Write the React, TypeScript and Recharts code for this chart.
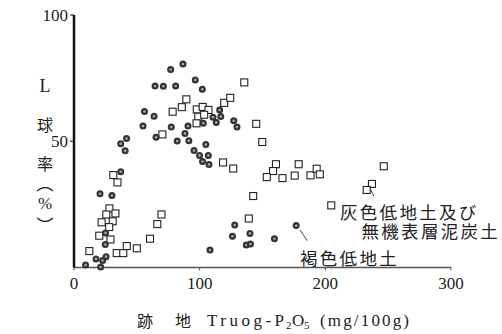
import React from "react";
import { ScatterChart, Scatter, XAxis, YAxis, ReferenceLine } from "recharts";

// 褐色低地土 (filled circles)
const brownX = [76.9, 86.7, 64.5, 71.1, 80.9, 96.5, 102.1, 56.1, 63.7, 54.9, 77.4, 90.7, 88.3, 65.3, 82.1, 91.4, 41.8, 37.2, 40.7, 104.9, 95.5, 99.9, 106.9, 102.3, 107.4, 102.9, 110.6, 116.8, 113.2, 115.9, 127.1, 129.7, 37.2, 20.7, 30.2, 25.1, 24.9, 17.5, 22.8, 25.5, 9.2, 21.2, 108.2, 127.9, 126.1, 140.0, 137.1, 140.4, 159.5, 176.8];
const brownY = [78.4, 80.6, 71.9, 71.8, 71.9, 74.3, 70.6, 61.8, 59.9, 56.0, 55.6, 56.0, 53.1, 51.6, 50.1, 50.2, 51.1, 49.0, 46.2, 48.7, 46.3, 44.4, 44.4, 42.0, 40.8, 57.1, 59.5, 59.8, 57.4, 62.4, 58.1, 55.6, 37.9, 29.2, 28.5, 13.7, 9.1, 3.4, 2.8, 4.3, 1.0, 0.2, 6.9, 16.8, 12.4, 13.5, 8.9, 9.3, 11.4, 16.6];

// 灰色低地土及び無機表層泥炭土 (open squares)
const grayX = [135.5, 89.4, 85.8, 78.5, 70.3, 97.7, 102.4, 107.0, 98.9, 103.6, 97.5, 119.5, 124.3, 118.6, 126.7, 145.0, 149.8, 160.7, 158.4, 153.4, 165.9, 178.8, 175.6, 188.2, 193.1, 195.6, 246.5, 237.1, 232.9, 204.7, 142.6, 139.1, 31.3, 34.6, 28.2, 25.7, 33.0, 22.0, 30.8, 28.0, 20.1, 29.0, 12.2, 34.0, 39.2, 42.0, 50.0, 69.6, 66.3, 60.5];
const grayY = [73.3, 66.6, 63.5, 61.7, 52.7, 62.6, 63.6, 62.4, 59.7, 60.5, 57.1, 65.2, 67.2, 41.6, 39.2, 56.9, 49.7, 40.9, 38.2, 35.8, 35.4, 40.9, 36.4, 36.5, 39.1, 36.9, 40.1, 33.1, 30.7, 24.6, 28.3, 19.4, 36.6, 33.7, 23.4, 21.0, 21.4, 17.9, 18.3, 16.0, 12.6, 11.1, 6.5, 5.7, 5.7, 8.5, 7.6, 21.0, 17.2, 11.4];

const xTicks = [0, 100, 200, 300];
const yTicks = [50, 100];

const brownData = brownX.map((x, i) => ({ x, y: brownY[i] }));
const grayData = grayX.map((x, i) => ({ x, y: grayY[i] }));

const CircleShape = (p: any) => (
  <g>
    <circle cx={p.cx} cy={p.cy} r={3.5} fill="#333" />
    <circle cx={p.cx} cy={p.cy} r={1.3} fill="#a8a8a8" />
  </g>
);

const SquareShape = (p: any) => (
  <rect x={p.cx - 3.5} y={p.cy - 3.5} width={7} height={7} fill="#fff" stroke="#222" strokeWidth={1.1} />
);

const serif = "Liberation Serif";
const cjk = "Noto Sans CJK JP";

export default function App() {
  return (
    <div style={{ position: "absolute", left: 0, top: 0, width: 502, height: 334, background: "#fff" }}>
      <ScatterChart width={502} height={334} margin={{ top: 15, right: 51, bottom: 36.5, left: 14 }}>
        <XAxis
          type="number"
          dataKey="x"
          domain={[0, 300]}
          ticks={xTicks}
          allowDataOverflow
          height={30}
          axisLine={{ stroke: "#555", strokeWidth: 1.5 }}
          tickLine={{ stroke: "#555" }}
          tickSize={3}
          tickMargin={6}
          tick={{ fill: "#222", fontSize: 17, style: { fontFamily: serif } }}
        />
        <YAxis
          type="number"
          dataKey="y"
          domain={[0, 100]}
          ticks={yTicks}
          width={60}
          axisLine={{ stroke: "#111", strokeWidth: 2.5 }}
          tickLine={{ stroke: "#111" }}
          tickSize={4}
          tickMargin={2}
          tick={{ fill: "#222", fontSize: 17, style: { fontFamily: serif } }}
        />
        <Scatter data={grayData} shape={SquareShape} isAnimationActive={false} />
        <Scatter data={brownData} shape={CircleShape} isAnimationActive={false} />
        <ReferenceLine segment={[{ x: 179.8, y: 14.9 }, { x: 185.6, y: 10.6 }]} stroke="#444" strokeWidth={1} />
        <ReferenceLine segment={[{ x: 235.5, y: 31.4 }, { x: 238.7, y: 28.2 }]} stroke="#444" strokeWidth={1} />
      </ScatterChart>
      <svg width={502} height={334} style={{ position: "absolute", left: 0, top: 0, pointerEvents: "none" }}>
        <g fill="#222" textAnchor="middle" dominantBaseline="central">
          <text x={45} y={86} style={{ fontFamily: serif }} fontSize={18}>L</text>
          <text x={45} y={124} style={{ fontFamily: cjk }} fontSize={16}>球</text>
          <text x={45} y={163} style={{ fontFamily: cjk }} fontSize={16}>率</text>
          <text x={45} y={182} style={{ fontFamily: cjk }} fontSize={17}>︵</text>
          <text x={45} y={203} style={{ fontFamily: serif }} fontSize={17}>%</text>
          <text x={45} y={224} style={{ fontFamily: cjk }} fontSize={17}>︶</text>
        </g>
        <g fill="#222" dominantBaseline="central">
          <text x={137} y={320} style={{ fontFamily: cjk }} fontSize={16}>跡</text>
          <text x={175} y={320} style={{ fontFamily: cjk }} fontSize={16}>地</text>
          <text x={207} y={320} style={{ fontFamily: serif }} fontSize={17} textLength={77} lengthAdjust="spacing">Truog-P</text>
          <text x={286} y={325} style={{ fontFamily: serif }} fontSize={11}>2</text>
          <text x={292} y={320} style={{ fontFamily: serif }} fontSize={17}>O</text>
          <text x={304} y={325} style={{ fontFamily: serif }} fontSize={11}>5</text>
          <text x={320} y={320} style={{ fontFamily: serif }} fontSize={17} textLength={89} lengthAdjust="spacing">(mg/100g)</text>
        </g>
        <g fill="#222" fontSize={17.5} dominantBaseline="central" style={{ fontFamily: cjk }}>
          <text x={340} y={211} letterSpacing={2.3}>灰色低地土及び</text>
          <text x={361.5} y={230.5} letterSpacing={2.3}>無機表層泥炭土</text>
          <text x={300} y={257} letterSpacing={2.3}>褐色低地土</text>
        </g>
      </svg>
    </div>
  );
}
